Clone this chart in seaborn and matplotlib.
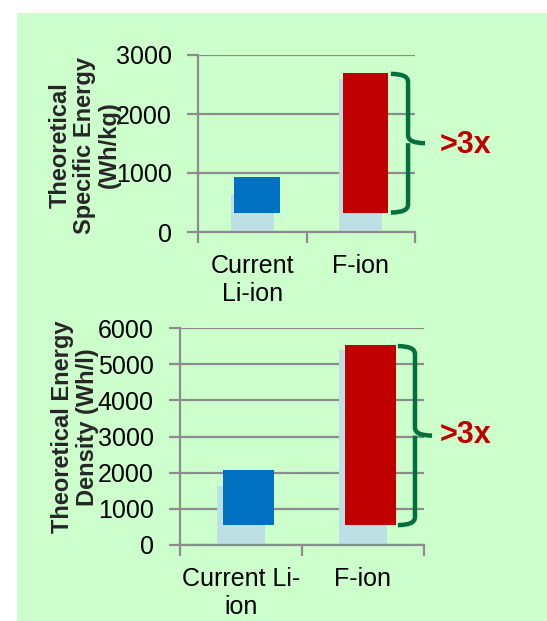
import numpy as np
import pandas as pd
import seaborn as sns
import matplotlib.pyplot as plt
from matplotlib.path import Path
from matplotlib.patches import PathPatch, Rectangle
import matplotlib.transforms as mtransforms

# Dados
categorias_sup = ["Current\nLi-ion", "F-ion"]
fundo_sup = [650, 2600]           # barras azul-claro (sombra)
base_sup = [350, 330]             # início da barra colorida
topo_sup = [930, 2680]            # fim da barra colorida
ticks_sup = [0, 1000, 2000, 3000]

categorias_inf = ["Current Li-\nion", "F-ion"]
fundo_inf = [1640, 5400]
base_inf = [590, 550]
topo_inf = [2070, 5500]
ticks_inf = [0, 1000, 2000, 3000, 4000, 5000, 6000]

rotulo_sup = "Theoretical\nSpecific Energy\n(Wh/kg)"
rotulo_inf = "Theoretical Energy\nDensity (Wh/l)"
anotacao = ">3x"

# Estilo
VERDE_FUNDO = "#CCFFCC"
AZUL_CLARO = "#BCE0E3"
CORES = ["#0070C0", "#C00000"]
CINZA = "#8C8C8C"
VERDE_CHAVE = "#00703C"
VERMELHO_TXT = "#C00000"

sns.set_theme(style="white")
plt.rcParams['font.family'] = ['Liberation Sans', 'DejaVu Sans']

fig = plt.figure(figsize=(5.47, 6.21), dpi=100)
fig.patch.set_facecolor("white")
fig.patches.append(Rectangle((17 / 547, 0), 1, 1 - 13 / 621, transform=fig.transFigure,
                             facecolor=VERDE_FUNDO, edgecolor="none", zorder=-10))


def desenha_chave(ax, ybot, ytop, x0, xv, xt, d):
    # chave "}" em coordenadas mistas (x do eixo, y dos dados)
    trans = mtransforms.blended_transform_factory(ax.transAxes, ax.transData)
    ymid = (ybot + ytop) / 2
    verts = [(x0, ytop), (xv, ytop), (xv, ytop - d), (xv, ymid + d), (xv, ymid), (xt, ymid),
             (xv, ymid), (xv, ymid - d), (xv, ybot + d), (xv, ybot), (x0, ybot)]
    codes = [Path.MOVETO, Path.CURVE3, Path.CURVE3, Path.LINETO, Path.CURVE3, Path.CURVE3,
             Path.MOVETO, Path.CURVE3, Path.LINETO, Path.CURVE3, Path.CURVE3]
    patch = PathPatch(Path(verts, codes), transform=trans, facecolor="none",
                      edgecolor=VERDE_CHAVE, lw=3.2, clip_on=False, capstyle="butt")
    ax.add_patch(patch)


def painel(rect, categorias, fundo, base, topo, ticks, deslocamento, chave, pos_txt):
    ax = fig.add_axes(rect)
    ax.set_facecolor("none")
    df = pd.DataFrame({"cat": categorias, "fundo": fundo, "base": base,
                       "altura": np.array(topo) - np.array(base)})
    sns.barplot(data=df, x="cat", y="fundo", color=AZUL_CLARO, width=0.4,
                saturation=1, ax=ax, zorder=2, linewidth=0, edgecolor="none")
    n = len(ax.patches)
    sns.barplot(data=df, x="cat", y="altura", hue="cat", palette=CORES, width=0.42,
                saturation=1, legend=False, ax=ax, bottom=df["base"], zorder=3,
                linewidth=0, edgecolor="none")
    for p in ax.patches[n:]:
        p.set_x(p.get_x() + deslocamento)

    ax.set_xlim(-0.5, 1.5)
    ax.set_ylim(ticks[0], ticks[-1])
    ax.set_yticks(ticks)
    ax.set_xlabel("")
    ax.set_ylabel("")
    ax.grid(axis="y", color=CINZA, lw=1.6, zorder=1)
    ax.set_axisbelow(True)
    for s in ["top", "right"]:
        ax.spines[s].set_visible(False)
    for s in ["left", "bottom"]:
        ax.spines[s].set_color(CINZA)
        ax.spines[s].set_linewidth(1.6)
        ax.spines[s].set_zorder(4)
    ax.tick_params(axis="y", left=True, length=8, width=1.6, color=CINZA,
                   labelsize=18, pad=11, labelcolor="black")
    ax.tick_params(axis="x", which="major", length=0, labelsize=18, pad=16,
                   labelcolor="black")
    ax.set_xticks([-0.5, 0.5, 1.5], minor=True)
    ax.tick_params(axis="x", which="minor", bottom=True, length=8, width=1.6, color=CINZA)

    x0, xv, xt, d = chave
    desenha_chave(ax, base[1], topo[1], x0, xv, xt, d)
    ax.text(pos_txt[0], pos_txt[1], anotacao, transform=mtransforms.blended_transform_factory(
        ax.transAxes, ax.transData), color=VERMELHO_TXT, fontsize=22, fontweight="bold",
        ha="left", va="center")
    return ax


painel([198 / 547, 1 - 232 / 621, 217 / 547, 177 / 621], categorias_sup, fundo_sup,
       base_sup, topo_sup, ticks_sup, 0.045, (0.889, 0.968, 1.046, 135), (1.115, 1475))
painel([180 / 547, 1 - 545 / 621, 244 / 547, 217 / 621], categorias_inf, fundo_inf,
       base_inf, topo_inf, ticks_inf, 0.06, (0.893, 0.963, 1.033, 220), (1.066, 3040))

fig.text(85 / 547, 1 - 145 / 621, rotulo_sup, rotation=90, ha="center", va="center",
         fontsize=17, fontweight="bold", linespacing=1.1, multialignment="center")
fig.text(75 / 547, 1 - 427 / 621, rotulo_inf, rotation=90, ha="center", va="center",
         fontsize=17, fontweight="bold", linespacing=1.1, multialignment="center")

fig.savefig("out.png", dpi=100)
